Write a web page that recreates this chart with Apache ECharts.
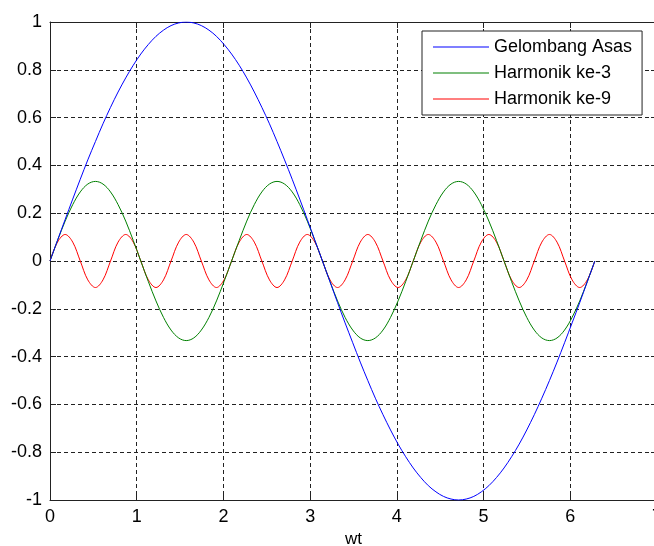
<!DOCTYPE html>
<html><head><meta charset="utf-8">
<script src="https://cdn.jsdelivr.net/npm/echarts@6/dist/echarts.min.js"></script>
<style>html,body{margin:0;padding:0;background:#fff}#c{width:654px;height:546px}</style>
</head><body><div id="c"></div>
<script>
// wt sample positions (radians)
var wt = [0,0.087,0.175,0.262,0.349,0.436,0.524,0.611,0.698,0.785,0.873,0.960,1.047,1.134,1.222,1.309,1.396,1.484,1.571,1.658,1.745,1.833,1.920,2.007,2.094,2.182,2.269,2.356,2.443,2.531,2.618,2.705,2.793,2.880,2.967,3.054,3.142,3.229,3.316,3.403,3.491,3.578,3.665,3.752,3.840,3.927,4.014,4.102,4.189,4.276,4.363,4.451,4.538,4.625,4.712,4.800,4.887,4.974,5.061,5.149,5.236,5.323,5.411,5.498,5.585,5.672,5.760,5.847,5.934,6.021,6.109,6.196,6.283];
var gelombangAsas = [0,0.087,0.174,0.259,0.342,0.423,0.5,0.574,0.643,0.707,0.766,0.819,0.866,0.906,0.940,0.966,0.985,0.996,1,0.996,0.985,0.966,0.940,0.906,0.866,0.819,0.766,0.707,0.643,0.574,0.5,0.423,0.342,0.259,0.174,0.087,0,-0.087,-0.174,-0.259,-0.342,-0.423,-0.5,-0.574,-0.643,-0.707,-0.766,-0.819,-0.866,-0.906,-0.940,-0.966,-0.985,-0.996,-1,-0.996,-0.985,-0.966,-0.940,-0.906,-0.866,-0.819,-0.766,-0.707,-0.643,-0.574,-0.5,-0.423,-0.342,-0.259,-0.174,-0.087,0];
var harmonik3 = [0,0.086,0.167,0.236,0.289,0.322,0.333,0.322,0.289,0.236,0.167,0.086,0,-0.086,-0.167,-0.236,-0.289,-0.322,-0.333,-0.322,-0.289,-0.236,-0.167,-0.086,0,0.086,0.167,0.236,0.289,0.322,0.333,0.322,0.289,0.236,0.167,0.086,0,-0.086,-0.167,-0.236,-0.289,-0.322,-0.333,-0.322,-0.289,-0.236,-0.167,-0.086,0,0.086,0.167,0.236,0.289,0.322,0.333,0.322,0.289,0.236,0.167,0.086,0,-0.086,-0.167,-0.236,-0.289,-0.322,-0.333,-0.322,-0.289,-0.236,-0.167,-0.086,0];
var harmonik9 = [0,0.079,0.111,0.079,0,-0.079,-0.111,-0.079,0,0.079,0.111,0.079,0,-0.079,-0.111,-0.079,0,0.079,0.111,0.079,0,-0.079,-0.111,-0.079,0,0.079,0.111,0.079,0,-0.079,-0.111,-0.079,0,0.079,0.111,0.079,0,-0.079,-0.111,-0.079,0,0.079,0.111,0.079,0,-0.079,-0.111,-0.079,0,0.079,0.111,0.079,0,-0.079,-0.111,-0.079,0,0.079,0.111,0.079,0,-0.079,-0.111,-0.079,0,0.079,0.111,0.079,0,-0.079,-0.111,-0.079,0];
var seriesNames = ['Gelombang Asas','Harmonik ke-3','Harmonik ke-9'];
var xAxisName = 'wt';

function pairs(ys){ return wt.map(function(x,i){ return [x, ys[i]]; }); }
var colors = ['#0000ff','#008000','#ff0000'];
var allData = [gelombangAsas, harmonik3, harmonik9];
var font = 'Liberation Sans, Arial, sans-serif';

var chart = echarts.init(document.getElementById('c'), null, {renderer:'canvas'});
var axisLine = {show:true, onZero:false, lineStyle:{color:'#222', width:1}};
chart.setOption({
  animation:false,
  backgroundColor:'#fff',
  grid:{left:50, top:22, right:-3, bottom:46, containLabel:false, outerBoundsMode:'none'},
  legend:{
    orient:'vertical', left:422, top:31, width:221,
    padding:[7,10,7,11], itemGap:8, itemWidth:56, itemHeight:18,
    backgroundColor:'#fff', borderColor:'#222', borderWidth:1, borderRadius:0,
    textStyle:{fontFamily:font, fontSize:18, color:'#000'},
    data:seriesNames.map(function(n){return {name:n, icon:'path://M0,0L56,0L56,1L0,1Z'};})
  },
  xAxis:[{
    type:'value', min:0, max:7, interval:1,
    name:xAxisName, nameLocation:'middle', nameGap:31,
    nameTextStyle:{fontFamily:font, fontSize:17, color:'#000'},
    axisLine:axisLine, axisTick:{show:true, inside:true, length:6, lineStyle:{color:'#222'}},
    axisLabel:{fontFamily:font, fontSize:18, color:'#000', margin:8},
    splitLine:{show:true, lineStyle:{color:'#222', type:[4,3], width:1}}
  },{
    type:'value', position:'top', min:0, max:7, interval:1,
    axisLine:axisLine, axisTick:{show:true, inside:true, length:6, lineStyle:{color:'#222'}},
    axisLabel:{show:false}, splitLine:{show:false}
  }],
  yAxis:[{
    type:'value', min:-1, max:1, interval:0.2,
    axisLine:axisLine, axisTick:{show:true, inside:true, length:6, lineStyle:{color:'#222'}},
    axisLabel:{fontFamily:font, fontSize:18, color:'#000', margin:8,
      formatter:function(v){ return String(Math.round(v*10)/10); }},
    splitLine:{show:true, lineStyle:{color:'#222', type:[4,3], width:1}}
  },{
    type:'value', position:'right', min:-1, max:1, interval:0.2,
    axisLine:axisLine, axisTick:{show:true, inside:true, length:6, lineStyle:{color:'#222'}},
    axisLabel:{show:false}, splitLine:{show:false}
  }],
  series: seriesNames.map(function(n,i){
    return {name:n, type:'line', data:pairs(allData[i]), showSymbol:false, symbol:'none',
      smooth:0.35, color:colors[i], lineStyle:{color:colors[i], width:1}, z:2+ (2-i)};
  })
});
</script></body></html>
